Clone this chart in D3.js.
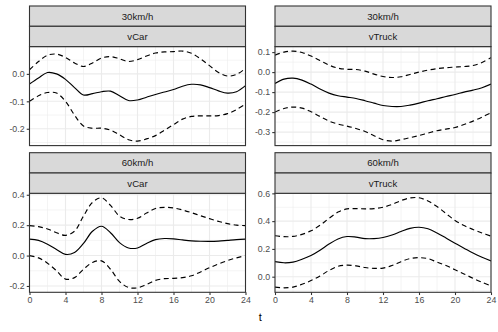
<!DOCTYPE html>
<html>
<head>
<meta charset="utf-8">
<script src="https://cdn.jsdelivr.net/npm/d3@7"></script>
<style>
  body { margin: 0; background: #fff; }
  svg { display: block; font-family: "Liberation Sans", Arial, sans-serif; }
</style>
</head>
<body>
<svg id="chart" width="498" height="332"></svg>
<script>
const hours = [0, 1, 2, 3, 4, 5, 6, 7, 8, 9, 10, 11, 12, 13, 14, 15, 16, 17, 18, 19, 20, 21, 22, 23, 24];
const xTicks = [0, 4, 8, 12, 16, 20, 24];
const xMinorTicks = [2, 6, 10, 14, 18, 22];
const speedLabels = ["30km/h", "30km/h", "60km/h", "60km/h"];
const vehicleLabels = ["vCar", "vTruck", "vCar", "vTruck"];

// 30km/h, vCar
const car30Fit = [-0.037, -0.015, 0.005, 0.0, -0.02, -0.05, -0.077, -0.072, -0.065, -0.063, -0.08, -0.097, -0.095, -0.085, -0.075, -0.066, -0.057, -0.045, -0.038, -0.04, -0.05, -0.062, -0.07, -0.065, -0.043];
const car30Upper = [0.015, 0.045, 0.068, 0.072, 0.06, 0.04, 0.027, 0.04, 0.058, 0.063, 0.055, 0.045, 0.052, 0.065, 0.076, 0.08, 0.081, 0.083, 0.075, 0.055, 0.03, 0.005, -0.008, -0.002, 0.02];
const car30Lower = [-0.1, -0.08, -0.068, -0.07, -0.1, -0.15, -0.19, -0.198, -0.198, -0.205, -0.222, -0.24, -0.245, -0.237, -0.225, -0.205, -0.185, -0.165, -0.155, -0.153, -0.153, -0.152, -0.145, -0.13, -0.11];
// 30km/h, vTruck
const truck30Fit = [-0.057, -0.035, -0.03, -0.04, -0.06, -0.085, -0.105, -0.118, -0.125, -0.132, -0.143, -0.155, -0.167, -0.172, -0.172, -0.165, -0.155, -0.143, -0.133, -0.122, -0.112, -0.1, -0.09, -0.078, -0.06];
const truck30Upper = [0.085, 0.1, 0.105, 0.098, 0.08, 0.058, 0.035, 0.02, 0.014, 0.013, 0.005, -0.01, -0.022, -0.027, -0.023, -0.012, 0.0, 0.01, 0.017, 0.022, 0.025, 0.028, 0.033, 0.048, 0.072];
const truck30Lower = [-0.2, -0.182, -0.175, -0.18, -0.198, -0.222, -0.245, -0.26, -0.27, -0.282, -0.297, -0.318, -0.338, -0.345, -0.338, -0.328, -0.317, -0.305, -0.293, -0.285, -0.277, -0.262, -0.245, -0.225, -0.203];
// 60km/h, vCar
const car60Fit = [0.108, 0.1, 0.075, 0.04, 0.008, 0.02, 0.08, 0.16, 0.193, 0.15, 0.085, 0.05, 0.05, 0.08, 0.105, 0.112, 0.11, 0.103, 0.097, 0.094, 0.093, 0.095, 0.1, 0.105, 0.108];
const car60Upper = [0.197, 0.19, 0.175, 0.15, 0.133, 0.16, 0.26, 0.35, 0.38, 0.33, 0.26, 0.237, 0.245, 0.28, 0.31, 0.317, 0.313, 0.3, 0.282, 0.262, 0.243, 0.225, 0.21, 0.2, 0.197];
const car60Lower = [0.0, -0.015, -0.05, -0.1, -0.155, -0.145, -0.09, -0.045, -0.035, -0.09, -0.17, -0.21, -0.212, -0.19, -0.163, -0.152, -0.15, -0.145, -0.133, -0.108, -0.08, -0.055, -0.033, -0.015, 0.0];
// 60km/h, vTruck
const truck60Fit = [0.108, 0.1, 0.105, 0.125, 0.152, 0.19, 0.235, 0.272, 0.289, 0.285, 0.274, 0.274, 0.282, 0.3, 0.325, 0.348, 0.356, 0.345, 0.315, 0.278, 0.24, 0.205, 0.17, 0.14, 0.113];
const truck60Upper = [0.295, 0.288, 0.29, 0.305, 0.33, 0.37, 0.42, 0.465, 0.488, 0.49, 0.488, 0.49, 0.5, 0.52, 0.548, 0.567, 0.568, 0.545, 0.505, 0.455, 0.405, 0.368, 0.34, 0.315, 0.292];
const truck60Lower = [-0.075, -0.08, -0.075, -0.055, -0.028, 0.005, 0.045, 0.075, 0.083, 0.078, 0.066, 0.06, 0.062, 0.08, 0.108, 0.13, 0.137, 0.13, 0.105, 0.08, 0.05, 0.02, -0.012, -0.04, -0.066];

const facets = [
  { fit: car30Fit, upper: car30Upper, lower: car30Lower },
  { fit: truck30Fit, upper: truck30Upper, lower: truck30Lower },
  { fit: car60Fit, upper: car60Upper, lower: car60Lower },
  { fit: truck60Fit, upper: truck60Upper, lower: truck60Lower },
].map((f, i) => ({ ...f, speed: speedLabels[i], vehicle: vehicleLabels[i], col: i % 2, row: Math.floor(i / 2) }));

const svg = d3.select("#chart");
const colX = [29.5, 275];
const panelWidth = 216;
const rowTop = [6, 152.7];
const stripHeight = 20.3;
const panelHeight = 99;
const gridColor = "#EBEBEB";
const borderColor = "#333333";
const fmt = (v) => d3.format(".1f")(v).replace("\u2212", "-");

const xScale = d3.scaleLinear().domain([0, 24]);

facets.forEach((f, i) => {
  const left = colX[f.col];
  const top = rowTop[f.row];
  const panelTop = top + 2 * stripHeight;
  const g = svg.append("g").attr("transform", `translate(${left},${panelTop})`);
  const x = xScale.copy().range([0, panelWidth]);

  //free y scale with ggplot-like 5% expansion
  const all = f.fit.concat(f.upper, f.lower);
  const [lo, hi] = d3.extent(all);
  const pad = (hi - lo) * 0.05;
  const y = d3.scaleLinear().domain([lo - pad, hi + pad]).range([panelHeight, 0]);
  const yTicks = y.ticks(4);
  const step = yTicks[1] - yTicks[0];
  const yMinor = d3.range(yTicks[0] - step / 2, hi + pad, step).filter((v) => v > lo - pad && v < hi + pad);

  //grid
  g.selectAll(".ygrid-minor").data(yMinor).enter().append("line")
    .attr("x1", 0).attr("x2", panelWidth)
    .attr("y1", (d) => y(d)).attr("y2", (d) => y(d))
    .attr("stroke", gridColor).attr("stroke-width", 0.55);
  g.selectAll(".xgrid-minor").data(xMinorTicks).enter().append("line")
    .attr("x1", (d) => x(d)).attr("x2", (d) => x(d))
    .attr("y1", 0).attr("y2", panelHeight)
    .attr("stroke", gridColor).attr("stroke-width", 0.55);
  g.selectAll(".ygrid").data(yTicks).enter().append("line")
    .attr("x1", 0).attr("x2", panelWidth)
    .attr("y1", (d) => y(d)).attr("y2", (d) => y(d))
    .attr("stroke", gridColor).attr("stroke-width", 1.1);
  g.selectAll(".xgrid").data(xTicks).enter().append("line")
    .attr("x1", (d) => x(d)).attr("x2", (d) => x(d))
    .attr("y1", 0).attr("y2", panelHeight)
    .attr("stroke", gridColor).attr("stroke-width", 1.1);

  //clip + lines
  svg.append("clipPath").attr("id", `clip${i}`)
    .append("rect").attr("width", panelWidth).attr("height", panelHeight);
  const line = d3.line()
    .x((d, j) => x(hours[j]))
    .y((d) => y(d))
    .curve(d3.curveCatmullRom);
  const lines = g.append("g").attr("clip-path", `url(#clip${i})`);
  [["upper", "5,3.5"], ["lower", "5,3.5"], ["fit", null]].forEach(([key, dash]) => {
    lines.append("path")
      .datum(f[key])
      .attr("d", line)
      .attr("fill", "none")
      .attr("stroke", "#000")
      .attr("stroke-width", 1.15)
      .attr("stroke-dasharray", dash);
  });

  //panel border
  g.append("rect").attr("width", panelWidth).attr("height", panelHeight)
    .attr("fill", "none").attr("stroke", borderColor).attr("stroke-width", 1.1);

  //y axis
  const yAxis = g.append("g").call(d3.axisLeft(y).tickValues(yTicks).tickSize(2.75).tickPadding(2.2).tickFormat(fmt));
  yAxis.select(".domain").remove();
  yAxis.selectAll("line").attr("stroke", borderColor).attr("stroke-width", 1.1);
  yAxis.selectAll("text").attr("fill", "#4D4D4D").style("font-size", "8.8px").style("font-family", null);

  //x axis on bottom row
  if (f.row === 1) {
    const xAxis = g.append("g").attr("transform", `translate(0,${panelHeight})`)
      .call(d3.axisBottom(x).tickValues(xTicks).tickSize(2.75).tickPadding(2.2).tickFormat(d3.format("d")));
    xAxis.select(".domain").remove();
    xAxis.selectAll("line").attr("stroke", borderColor).attr("stroke-width", 1.1);
    xAxis.selectAll("text").attr("fill", "#4D4D4D").style("font-size", "8.8px").style("font-family", null);
  }

  //strips
  [f.speed, f.vehicle].forEach((label, k) => {
    const sy = top + k * stripHeight;
    svg.append("rect")
      .attr("x", left).attr("y", sy)
      .attr("width", panelWidth).attr("height", stripHeight)
      .attr("fill", "#D9D9D9").attr("stroke", borderColor).attr("stroke-width", 1.1);
    svg.append("text")
      .attr("x", left + panelWidth / 2).attr("y", sy + stripHeight / 2)
      .attr("text-anchor", "middle").attr("dominant-baseline", "central")
      .attr("fill", "#1A1A1A").style("font-size", "9.6px")
      .text(label);
  });
});

svg.append("text")
  .attr("x", (colX[0] + colX[1] + panelWidth) / 2)
  .attr("y", 321)
  .attr("text-anchor", "middle")
  .attr("fill", "#000")
  .style("font-size", "11px")
  .text("t");
</script>
</body>
</html>
